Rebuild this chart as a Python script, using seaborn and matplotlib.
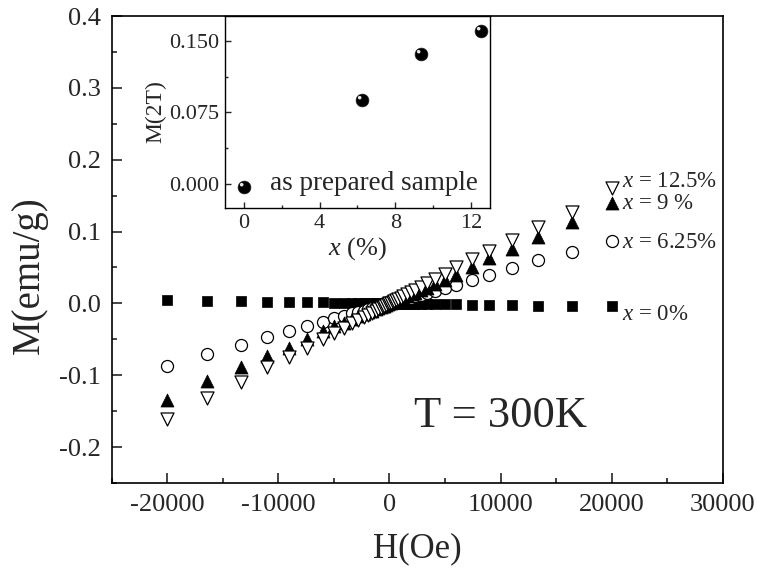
import numpy as np
import pandas as pd
import seaborn as sns
import matplotlib.pyplot as plt
from matplotlib.path import Path
from matplotlib.ticker import MultipleLocator, FormatStrFormatter

# field values (Oe)
field = [-20000, -16400, -13400, -11000, -9000, -7400, -6000, -5000, -4100, -3400,
         -2800, -2300, -1900, -1550, -1250, -1000, -800, -600, -450, -300, -150, 0,
         150, 300, 450, 600, 800, 1000, 1250, 1550, 1900, 2300, 2800, 3400, 4100,
         5000, 6000, 7400, 9000, 11000, 13400, 16400, 20000]

m_0 = [0.0045, 0.0035, 0.003, 0.0025, 0.002, 0.0017, 0.0014, 0.0011, 0.0009, 0.0007,
       0.0006, 0.0005, 0.0004, 0.0003, 0.00025, 0.0002, 0.00015, 0.0001, 0.0001, 0.00005, 0.0, 0.0,
       0.0, -0.00005, -0.0001, -0.0001, -0.00015, -0.0002, -0.00025, -0.0003, -0.0004, -0.0005,
       -0.0006, -0.0007, -0.0009, -0.0011, -0.0014, -0.0017, -0.002, -0.0025, -0.003, -0.0033, -0.004]

m_625 = [-0.087, -0.071, -0.058, -0.047, -0.038, -0.032, -0.026, -0.021, -0.017, -0.014,
         -0.012, -0.010, -0.008, -0.0065, -0.005, -0.004, -0.0033, -0.0025, -0.0019, -0.0012, -0.0006, 0.0,
         0.0006, 0.0012, 0.0019, 0.0025, 0.0033, 0.004, 0.005, 0.0065, 0.008, 0.010, 0.012, 0.014,
         0.017, 0.021, 0.026, 0.032, 0.039, 0.049, 0.060, 0.072, 0.0875]

m_9 = [-0.135, -0.108, -0.088, -0.073, -0.062, -0.049, -0.038, -0.032, -0.027, -0.022,
       -0.018, -0.015, -0.0125, -0.010, -0.008, -0.0065, -0.005, -0.004, -0.003, -0.002, -0.001, 0.0,
       0.001, 0.002, 0.003, 0.004, 0.005, 0.0065, 0.008, 0.010, 0.0125, 0.015, 0.018, 0.022,
       0.027, 0.032, 0.040, 0.050, 0.063, 0.075, 0.093, 0.113, 0.140]

m_125 = [-0.161, -0.132, -0.109, -0.089, -0.074, -0.062, -0.050, -0.041, -0.034, -0.028,
         -0.023, -0.019, -0.016, -0.013, -0.010, -0.008, -0.0065, -0.005, -0.0037, -0.0025, -0.0012, 0.0,
         0.0012, 0.0025, 0.0037, 0.005, 0.0065, 0.008, 0.010, 0.013, 0.016, 0.019, 0.023, 0.028,
         0.034, 0.041, 0.050, 0.062, 0.073, 0.088, 0.107, 0.127, 0.161]

series_labels = ['$x$ = 0%', '$x$ = 6.25%', '$x$ = 9 %', '$x$ = 12.5%']

# inset data
conc = [0, 6.25, 9.375, 12.5]
m_2t = [-0.003, 0.088, 0.136, 0.160]

sns.set_style("ticks")
plt.rcParams['font.family'] = ['Liberation Serif', 'DejaVu Serif']
plt.rcParams['mathtext.fontset'] = 'custom'
plt.rcParams['mathtext.rm'] = 'Liberation Serif'
plt.rcParams['mathtext.it'] = 'Liberation Serif:italic'
plt.rcParams['axes.unicode_minus'] = False

fig = plt.figure(figsize=(7.57, 5.78), dpi=100)
ax = fig.add_axes([0.1476, 0.1644, 0.8071, 0.8079])

df = pd.DataFrame({'H': field, 'm0': m_0, 'm625': m_625, 'm9': m_9, 'm125': m_125})
sns.scatterplot(data=df, x='H', y='m0', marker='s', s=56, color='black', edgecolor='black', linewidth=0.5, ax=ax, zorder=3)
sns.scatterplot(data=df, x='H', y='m625', marker='o', s=75, facecolor='white', edgecolor='black', linewidth=0.9, ax=ax, zorder=3)
sns.scatterplot(data=df, x='H', y='m9', marker='^', s=88, color='black', edgecolor='black', linewidth=0.5, ax=ax, zorder=4)
sns.scatterplot(data=df, x='H', y='m125', marker='v', s=88, facecolor='white', edgecolor='black', linewidth=0.9, ax=ax, zorder=4)

ax.set_xlim(-25000, 30000)
ax.set_ylim(-0.25, 0.4)
ax.xaxis.set_major_locator(MultipleLocator(10000))
ax.xaxis.set_minor_locator(MultipleLocator(5000))
ax.yaxis.set_major_locator(MultipleLocator(0.1))
ax.yaxis.set_minor_locator(MultipleLocator(0.05))
ax.yaxis.set_major_formatter(FormatStrFormatter('%.1f'))
ax.tick_params(which='both', direction='in', top=False, right=False, labelsize=19, width=1.2)
ax.tick_params(which='major', length=7, pad=8)
ax.tick_params(which='minor', length=3.5)
for sp in ax.spines.values():
    sp.set_linewidth(1.2)
    sp.set_color('black')
ax.set_xlabel('H(Oe)', fontsize=25, labelpad=12)
ax.set_ylabel('M(emu/g)', fontsize=28)
ax.yaxis.set_label_coords(-0.104, 0.445)

label_y = [-0.015, 0.085, 0.139, 0.169]
for lab, ly in zip(series_labels, label_y):
    ax.text(20900, ly, lab, fontsize=16.5, ha='left', va='center')

ax.text(10000, -0.157, 'T = 300K', fontsize=32, ha='center', va='center')

# inset
ins = fig.add_axes([0.2972, 0.6401, 0.3501, 0.3322])
sns.scatterplot(x=conc, y=m_2t, marker='o', s=85, color='black', edgecolor='#222222', linewidth=0.5, ax=ins, zorder=3)
hl = Path.circle(center=(-0.22, 0.22), radius=0.14)
hl = Path(np.vstack([hl.vertices, [[0.5, -0.5], [-0.5, 0.5]]]),
          np.concatenate([hl.codes, [Path.MOVETO, Path.MOVETO]]))
sns.scatterplot(x=conc, y=m_2t, marker=hl, s=85, color='#e8e8e8', linewidth=0, ax=ins, zorder=4)
ins.set_xlim(-1, 13)
ins.set_ylim(-0.025, 0.176)
ins.xaxis.set_major_locator(MultipleLocator(4))
ins.xaxis.set_minor_locator(MultipleLocator(2))
ins.yaxis.set_major_locator(MultipleLocator(0.075))
ins.yaxis.set_minor_locator(MultipleLocator(0.0375))
ins.yaxis.set_major_formatter(FormatStrFormatter('%.3f'))
ins.tick_params(which='both', direction='in', top=False, right=False, labelsize=16, width=1.0)
ins.tick_params(which='major', length=4, pad=4)
ins.tick_params(which='minor', length=2)
for sp in ins.spines.values():
    sp.set_linewidth(1.0)
    sp.set_color('black')
ins.set_xlabel('$x$ (%)', fontsize=19, labelpad=2)
ins.set_ylabel('M(2T)', fontsize=17, labelpad=2)
ins.text(1.4, 0.001, 'as prepared sample', fontsize=19.5, ha='left', va='center')

fig.savefig('out.png', dpi=100)
